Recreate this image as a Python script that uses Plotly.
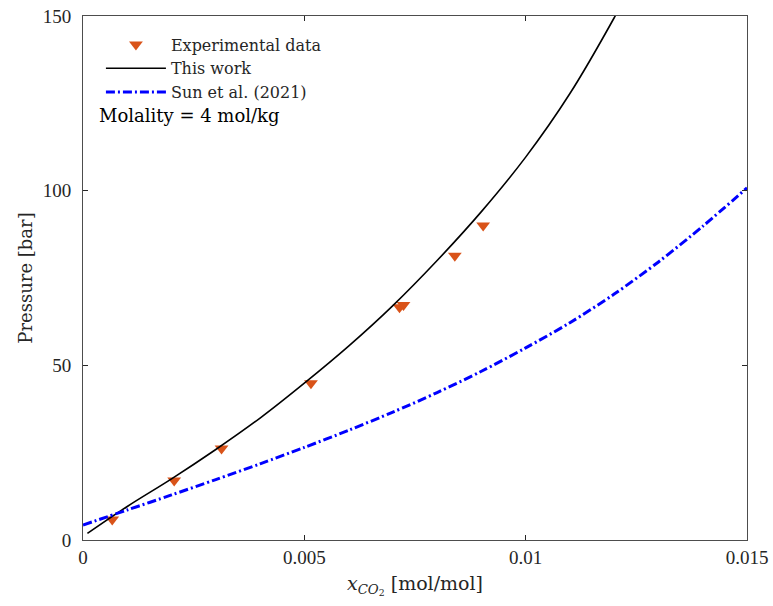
import plotly.graph_objects as go

# Experimental CO2 solubility at molality 4 mol/kg
exp_x = [0.00066, 0.00206, 0.00313, 0.00515, 0.00715, 0.00724, 0.00840, 0.00904]
exp_p = [5.9, 17.0, 26.2, 44.9, 66.6, 67.3, 81.4, 90.0]

# Model curve ("This work")
model_x = [0.0001, 0.001, 0.002, 0.003, 0.004, 0.005, 0.006, 0.007, 0.008,
           0.009, 0.010, 0.011, 0.012, 0.0122]
model_p = [1.9, 9.6, 17.5, 25.9, 34.9, 44.9, 55.5, 67.1, 80.0,
           94.0, 109.6, 127.8, 149.5, 154.3]

# Sun et al. (2021) curve
sun_x = [0.0, 0.001, 0.002, 0.003, 0.004, 0.005, 0.006, 0.007, 0.008,
         0.009, 0.010, 0.011, 0.012, 0.013, 0.014, 0.015]
sun_p = [4.3, 8.6, 12.9, 17.3, 21.8, 26.5, 31.4, 36.6, 42.2,
         48.3, 55.0, 62.2, 70.4, 79.6, 89.8, 100.8]

x_ticks = [0, 0.005, 0.01, 0.015]
x_tick_text = ["0", "0.005", "0.01", "0.015"]
y_ticks = [0, 50, 100, 150]

TEXT_FONT = "DejaVu Serif"
NUM_FONT = "Liberation Serif"
TEXT_COLOR = "#262626"
AXIS_COLOR = "#4d4d4d"

fig = go.Figure()

fig.add_trace(go.Scatter(
    x=exp_x, y=exp_p, mode="markers", name="Experimental data",
    marker=dict(symbol="triangle-down", size=12, color="#D95319"),
))
fig.add_trace(go.Scatter(
    x=model_x, y=model_p, mode="lines", name="This work",
    line=dict(color="black", width=1.6, shape="spline", smoothing=1.0),
))
fig.add_trace(go.Scatter(
    x=sun_x, y=sun_p, mode="lines", name="Sun et al. (2021)",
    line=dict(color="#0000FF", width=3, dash="9px,3px,2px,3px",
              shape="spline", smoothing=0.8),
))

fig.add_annotation(
    x=0.0, y=1.0, xref="paper", yref="paper",
    xanchor="left", yanchor="top", xshift=14, yshift=-87,
    text="Molality = 4 mol/kg", showarrow=False,
    font=dict(family=TEXT_FONT, size=18, color="black"),
)

axis_common = dict(
    showline=True, linecolor=AXIS_COLOR, linewidth=1, mirror="ticks",
    ticks="inside", ticklen=5, tickcolor=TEXT_COLOR, tickwidth=1,
    showgrid=False, zeroline=False,
    tickfont=dict(family=NUM_FONT, size=19, color=TEXT_COLOR),
)

fig.update_layout(
    width=773, height=606,
    margin=dict(l=83, r=26, t=16, b=66, autoexpand=False),
    paper_bgcolor="white", plot_bgcolor="white",
    font=dict(family=TEXT_FONT, size=16, color=TEXT_COLOR),
    showlegend=True,
    legend=dict(
        x=0.027, y=0.978, xanchor="left", yanchor="top",
        bgcolor="rgba(255,255,255,0)", borderwidth=0,
        font=dict(family=TEXT_FONT, size=16, color=TEXT_COLOR),
        itemwidth=60, tracegroupgap=0,
    ),
    xaxis=dict(
        range=[0, 0.015], tickvals=x_ticks, ticktext=x_tick_text,
        title=dict(text="<i>x</i><sub><i>CO</i><sub>2</sub></sub> [mol/mol]",
                   font=dict(family=TEXT_FONT, size=19, color=TEXT_COLOR),
                   standoff=9),
        **axis_common,
    ),
    yaxis=dict(
        range=[0, 150], tickvals=y_ticks, ticklabelstandoff=7,
        title=dict(text="Pressure [bar]",
                   font=dict(family=TEXT_FONT, size=18, color=TEXT_COLOR),
                   standoff=5),
        **axis_common,
    ),
)

fig.write_html("out.html")
